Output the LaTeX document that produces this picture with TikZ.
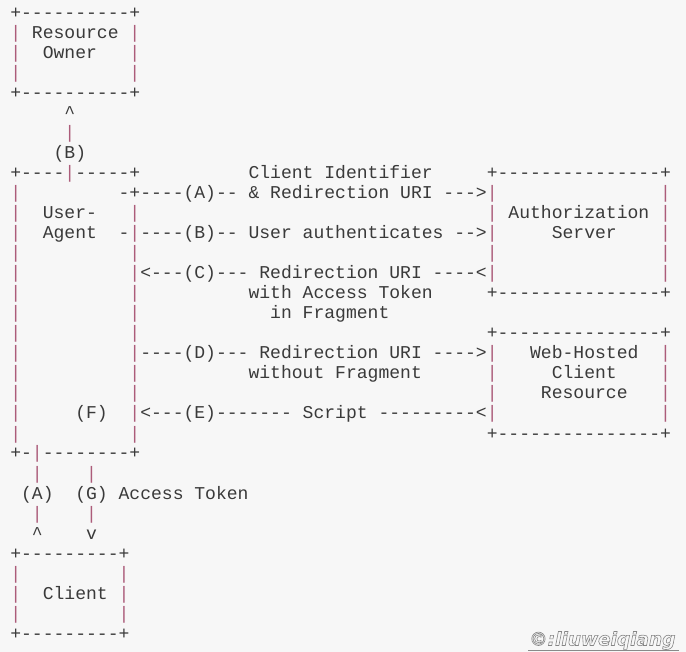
\documentclass[tikz,border=0pt]{standalone}
\usepackage{fontspec}
\setmonofont{Liberation Mono}
\newfontfamily\wmfont{DejaVu Sans}
\definecolor{bg}{HTML}{F7F7F7}
\definecolor{fg}{HTML}{3A3A3A}
\definecolor{bar}{RGB}{172,92,122}
\definecolor{wm}{HTML}{8A8A8A}
\newcommand\B{{\color{bar}|}}
\newcommand\T[3]{\node[txt] (r#2c#1) at ({10.3+#1*10.83},{19+#2*20}) {#3};}
\newcommand\outlined[1]{\special{pdf:code q 1 Tr 0.6 w 0.52 0.52 0.52 RG}#1\special{pdf:code Q}}
\begin{document}
\begin{tikzpicture}[x=1pt,y=-1pt,
  txt/.style={anchor=base west,inner sep=0pt,outer sep=0pt,text=fg,
    font=\ttfamily\fontsize{18.05}{20}\selectfont},
  wmtxt/.style={anchor=base west,inner sep=0pt,
    font=\wmfont\bfseries\itshape\fontsize{18.5}{20}\selectfont}]
\useasboundingbox (0,0) rectangle (686,652);
\fill[bg] (0,0) rectangle (686,652);
% Resource Owner
\T{0}{0}{+----------+}
\T{0}{1}{\B}\T{2}{1}{Resource}\T{11}{1}{\B}
\T{0}{2}{\B}\T{3}{2}{Owner}\T{11}{2}{\B}
\T{0}{3}{\B}\T{11}{3}{\B}
\T{0}{4}{+----------+}
\T{5}{5}{\textasciicircum}
\T{5}{6}{\B}
\T{4}{7}{(B)}
% User-Agent and servers
\T{0}{8}{+----\B-----+}\T{22}{8}{Client Identifier}\T{44}{8}{+---------------+}
\T{0}{9}{\B}\T{10}{9}{-+----(A)-- \& Redirection URI --->\B}\T{60}{9}{\B}
\T{0}{10}{\B}\T{3}{10}{User-}\T{11}{10}{\B}\T{44}{10}{\B{} Authorization \B}
\T{0}{11}{\B}\T{3}{11}{Agent}\T{10}{11}{-\B----(B)-- User authenticates -->\B}\T{50}{11}{Server}\T{60}{11}{\B}
\T{0}{12}{\B}\T{11}{12}{\B}\T{44}{12}{\B}\T{60}{12}{\B}
\T{0}{13}{\B}\T{11}{13}{\B<---(C)--- Redirection URI ----<\B}\T{60}{13}{\B}
\T{0}{14}{\B}\T{11}{14}{\B}\T{22}{14}{with Access Token}\T{44}{14}{+---------------+}
\T{0}{15}{\B}\T{11}{15}{\B}\T{24}{15}{in Fragment}
\T{0}{16}{\B}\T{11}{16}{\B}\T{44}{16}{+---------------+}
\T{0}{17}{\B}\T{11}{17}{\B----(D)--- Redirection URI ---->\B}\T{48}{17}{Web-Hosted}\T{60}{17}{\B}
\T{0}{18}{\B}\T{11}{18}{\B}\T{22}{18}{without Fragment}\T{44}{18}{\B}\T{50}{18}{Client}\T{60}{18}{\B}
\T{0}{19}{\B}\T{11}{19}{\B}\T{44}{19}{\B}\T{49}{19}{Resource}\T{60}{19}{\B}
\T{0}{20}{\B}\T{6}{20}{(F)}\T{11}{20}{\B<---(E)------- Script ---------<\B}\T{60}{20}{\B}
\T{0}{21}{\B}\T{11}{21}{\B}\T{44}{21}{+---------------+}
\T{0}{22}{+-\B--------+}
\T{2}{23}{\B}\T{7}{23}{\B}
\T{1}{24}{(A)}\T{6}{24}{(G) Access Token}
\T{2}{25}{\B}\T{7}{25}{\B}
\T{2}{26}{\textasciicircum}\T{7}{26}{v}
% Client
\T{0}{27}{+---------+}
\T{0}{28}{\B}\T{10}{28}{\B}
\T{0}{29}{\B}\T{3}{29}{Client}\T{10}{29}{\B}
\T{0}{30}{\B}\T{10}{30}{\B}
\T{0}{31}{+---------+}
% watermark
\node[wmtxt] (wm) at (529,645.5) {\outlined{©:liuweiqiang}};
\coordinate (ul1) at (528,650.5);
\coordinate (ul2) at (679,650.5);
\draw[wm,line width=1.3pt] (ul1) -- (ul2);
\end{tikzpicture}
\end{document}
